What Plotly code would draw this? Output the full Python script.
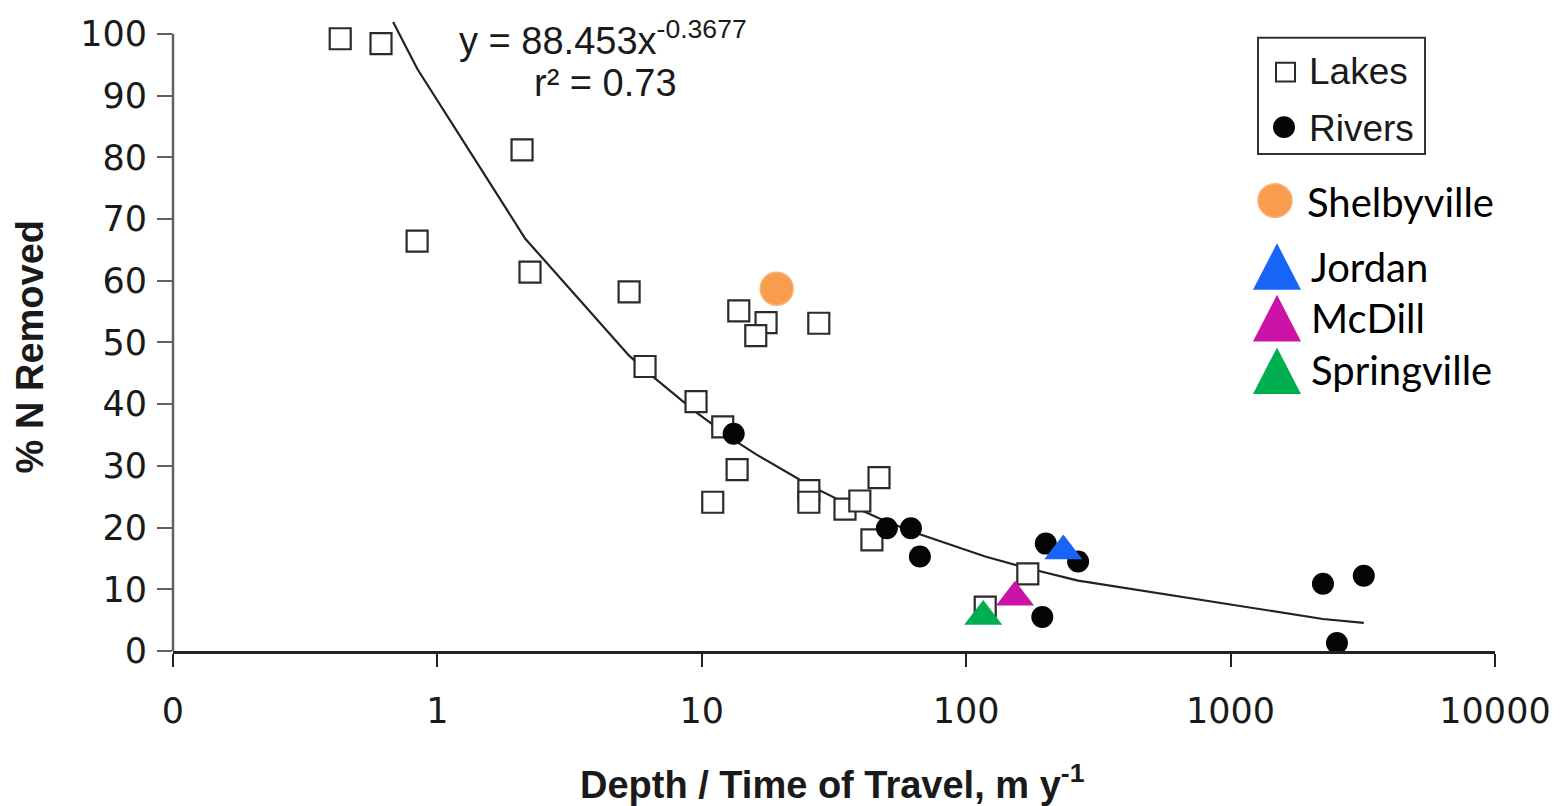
import plotly.graph_objects as go

# ---------------- data ----------------
lakes_x = [0.429, 0.612, 0.838, 2.09, 2.24, 5.31, 6.10, 9.51, 12.0, 13.8, 17.5, 16.0, 27.7,
           13.6, 11.0, 25.4, 25.4, 34.8, 39.6, 46.8, 44.0, 171, 118]
lakes_y = [99.2, 98.4, 66.4, 81.2, 61.4, 58.2, 46.1, 40.4, 36.3, 55.1, 53.2, 51.1, 53.1,
           29.4, 24.1, 26.0, 24.1, 23.0, 24.3, 28.1, 18.0, 12.5, 7.1]

rivers_x = [13.2, 50.1, 61.8, 66.8, 200, 265, 194, 2235, 3190, 2525]
rivers_y = [35.2, 19.9, 19.9, 15.3, 17.4, 14.5, 5.5, 10.9, 12.2, 1.3]

shelbyville_x = [19.2]
shelbyville_y = [58.7]
jordan_x = [233]
jordan_y = [16.2]
mcdill_x = [153]
mcdill_y = [8.7]
springville_x = [116]
springville_y = [5.6]

# fitted power curve y = 88.453 x^-0.3677, as drawn
trend_x = [0.68, 0.84, 2.15, 5.3, 6.1, 9.5, 12.0, 13.2, 16.0, 25.4, 34.8, 46.8, 61.8, 118, 171, 265, 2235, 3190]
trend_y = [101.9, 94.3, 66.8, 47.9, 45.5, 38.7, 35.5, 34.2, 31.9, 26.9, 24.0, 21.5, 19.4, 15.3, 13.4, 11.4, 5.19, 4.55]

x_tickvals = [0.1, 1, 10, 100, 1000, 10000]
x_ticktext = ["0", "1", "10", "100", "1000", "10000"]
y_tickvals = [0, 10, 20, 30, 40, 50, 60, 70, 80, 90, 100]

# ---------------- layout helpers ----------------
PAGE_W, PAGE_H = 1561, 806
OFF = 8                     # default body margin of the html page
L, R, T, B = 173, 1495, 14, 651   # plot area in page pixels


def pp(x, y):
    """page pixel -> paper coordinates"""
    return (x - L) / (R - L), (B - y) / (B - T)


ARIAL = "Liberation Sans, Arial, sans-serif"
TICKF = "DejaVu Sans, sans-serif"
CAL = "Lato, Carlito, Calibri, sans-serif"

fig = go.Figure()

fig.add_trace(go.Scatter(x=trend_x, y=trend_y, mode="lines",
                         line=dict(color="#222222", width=2.2), showlegend=False, hoverinfo="skip"))
fig.add_trace(go.Scatter(x=lakes_x, y=lakes_y, mode="markers", name="Lakes",
                         marker=dict(symbol="square", size=21, color="white",
                                     line=dict(color="#2b2b2b", width=2.2)),
                         cliponaxis=False, showlegend=False))
fig.add_trace(go.Scatter(x=rivers_x, y=rivers_y, mode="markers", name="Rivers",
                         marker=dict(symbol="circle", size=22, color="#050505",
                                     line=dict(color="#050505", width=0)),
                         cliponaxis=False, showlegend=False))
fig.add_trace(go.Scatter(x=shelbyville_x, y=shelbyville_y, mode="markers", name="Shelbyville",
                         marker=dict(symbol="circle", size=33, color="#F99D4C",
                                     line=dict(color="#F7B27A", width=1.5)),
                         showlegend=False))
fig.add_trace(go.Scatter(x=jordan_x, y=jordan_y, mode="markers", name="Jordan",
                         marker=dict(symbol="triangle-up", size=33, color="#1764F7", line=dict(width=0)),
                         showlegend=False))
fig.add_trace(go.Scatter(x=mcdill_x, y=mcdill_y, mode="markers", name="McDill",
                         marker=dict(symbol="triangle-up", size=33, color="#CC13A8", line=dict(width=0)),
                         showlegend=False))
fig.add_trace(go.Scatter(x=springville_x, y=springville_y, mode="markers", name="Springville",
                         marker=dict(symbol="triangle-up", size=33, color="#00AF50", line=dict(width=0)),
                         showlegend=False))

shapes = []
# y axis line from 0 to 100 only
shapes.append(dict(type="line", xref="paper", yref="y", x0=0, x1=0, y0=0, y1=100,
                   line=dict(color="#606060", width=2.5)))

# legend box (Lakes / Rivers)
x0, y0 = pp(1258, 33)
x1, y1 = pp(1425, 150)
shapes.append(dict(type="rect", xref="paper", yref="paper", x0=x0, y0=y1, x1=x1, y1=y0,
                   line=dict(color="#333333", width=2), fillcolor="white", layer="below"))
# legend square
a0, b0 = pp(1276, 58)
a1, b1 = pp(1295, 77)
shapes.append(dict(type="rect", xref="paper", yref="paper", x0=a0, y0=b1, x1=a1, y1=b0,
                   line=dict(color="#2b2b2b", width=2), fillcolor="white"))
# legend circle
a0, b0 = pp(1273, 112)
a1, b1 = pp(1295, 134)
shapes.append(dict(type="circle", xref="paper", yref="paper", x0=a0, y0=b1, x1=a1, y1=b0,
                   line=dict(color="#050505", width=0), fillcolor="#050505"))
# Shelbyville circle
a0, b0 = pp(1258, 180)
a1, b1 = pp(1292, 214)
shapes.append(dict(type="circle", xref="paper", yref="paper", x0=a0, y0=b1, x1=a1, y1=b0,
                   line=dict(color="#F7B27A", width=1.5), fillcolor="#F99D4C"))


def tri(xl, xr, ytop, ybot, color):
    p1 = pp(xl, ybot)
    p2 = pp(xr, ybot)
    p3 = pp((xl + xr) / 2, ytop)
    path = f"M{p1[0]},{p1[1]} L{p2[0]},{p2[1]} L{p3[0]},{p3[1]} Z"
    return dict(type="path", xref="paper", yref="paper", path=path,
                fillcolor=color, line=dict(width=0))


shapes.append(tri(1253, 1301, 240, 287, "#1764F7"))
shapes.append(tri(1253, 1301, 292, 339, "#CC13A8"))
shapes.append(tri(1253, 1301, 345, 392, "#00AF50"))

annotations = []


def ann(text, x, y, size, family, xanchor="left", angle=0, color="#1a1a1a"):
    px_, py_ = pp(x, y)
    annotations.append(dict(text=text, x=px_, y=py_, xref="paper", yref="paper",
                            xanchor=xanchor, yanchor="middle", showarrow=False,
                            textangle=angle, font=dict(size=size, family=family, color=color)))


ann("Lakes", 1307, 67, 37, ARIAL)
ann("Rivers", 1307, 124, 37, ARIAL)
ann("Shelbyville", 1305, 198, 40, CAL, color="#000000")
ann("Jordan", 1309, 264, 40, CAL, color="#000000")
ann("McDill", 1309, 315, 40, CAL, color="#000000")
ann("Springville", 1309, 368, 40, CAL, color="#000000")

ann("y = 88.453x<sup>-0.3677</sup>", 603, 33, 38, ARIAL, xanchor="center")
ann("r² = 0.73", 605, 79, 38, ARIAL, xanchor="center")

ann("<b>Depth / Time of Travel, m y<sup>-1</sup></b>", 832, 783, 38, ARIAL, xanchor="center")
ann("<b>% N Removed</b>", 30, 345, 38, ARIAL, xanchor="center", angle=-90)

fig.update_layout(
    width=PAGE_W - OFF, height=PAGE_H - OFF,
    margin=dict(l=L - OFF, r=PAGE_W - R, t=T - OFF, b=PAGE_H - B, pad=0),
    paper_bgcolor="white", plot_bgcolor="white",
    showlegend=False,
    shapes=shapes, annotations=annotations,
    xaxis=dict(type="log", range=[-1, 4], tickvals=x_tickvals, ticktext=x_ticktext,
               ticks="outside", ticklen=13, tickwidth=2, tickcolor="#222222",
               showline=True, linecolor="#222222", linewidth=2.5,
               showgrid=False, zeroline=False, ticklabelstandoff=14,
               tickfont=dict(size=35, family=TICKF, color="#1a1a1a")),
    yaxis=dict(range=[0, 102.4], tickvals=y_tickvals,
               ticks="outside", ticklen=15, tickwidth=2, tickcolor="#606060",
               showline=False, showgrid=False, zeroline=False, ticklabelstandoff=3,
               tickfont=dict(size=35, family=TICKF, color="#1a1a1a")),
)

fig.write_html("out.html")
